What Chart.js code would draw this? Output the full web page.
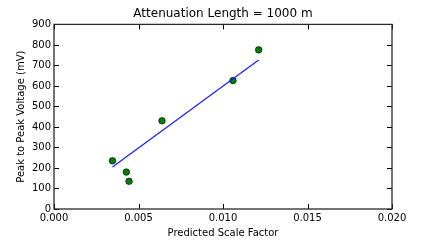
<!DOCTYPE html>
<html>
<head>
<meta charset="utf-8">
<script src="https://cdn.jsdelivr.net/npm/chart.js@4/dist/chart.umd.min.js"></script>
<style>
  html, body { margin: 0; padding: 0; background: #fff; }
  #wrap { width: 436px; height: 240px; }
</style>
</head>
<body>
<div id="wrap"><canvas id="chart"></canvas></div>
<script>
// measured points
const scaleFactor = [0.00346, 0.00428, 0.00444, 0.00639, 0.01059, 0.01211];
const voltage = [235, 180, 135, 430, 626, 776];
// fitted line ends
const fitX = [0.00346, 0.01211];
const fitY = [205, 726];
const xTicks = [0, 0.005, 0.010, 0.015, 0.020];
const yTicks = [0, 100, 200, 300, 400, 500, 600, 700, 800, 900];

Chart.defaults.font.family = "'DejaVu Sans', sans-serif";
Chart.defaults.color = '#000';

// matplotlib style frame with inward ticks on every side
const frame = {
    id: 'frame',
    afterDraw(chart) {
        const { ctx, chartArea: a, scales } = chart;
        const len = 5;
        ctx.save();
        ctx.strokeStyle = '#000';
        ctx.lineWidth = 1;
        ctx.beginPath();
        xTicks.forEach(v => {
            const px = Math.round(scales.x.getPixelForValue(v)) + 0.5;
            ctx.moveTo(px, a.bottom); ctx.lineTo(px, a.bottom - len);
            ctx.moveTo(px, a.top); ctx.lineTo(px, a.top + len);
        });
        yTicks.forEach(v => {
            const py = Math.round(scales.y.getPixelForValue(v)) + 0.5;
            ctx.moveTo(a.left, py); ctx.lineTo(a.left + len, py);
            ctx.moveTo(a.right, py); ctx.lineTo(a.right - len, py);
        });
        ctx.stroke();
        ctx.lineWidth = 1.3;
        ctx.strokeStyle = '#2a2a2a';
        ctx.strokeRect(a.left, a.top, a.right - a.left, a.bottom - a.top);
        ctx.restore();
    }
};

new Chart(document.getElementById('chart'), {
    type: 'scatter',
    data: {
        datasets: [{
            label: 'fit',
            type: 'line',
            data: fitX.map((x, i) => ({ x, y: fitY[i] })),
            borderColor: '#1a1aff',
            borderWidth: 1.2,
            pointRadius: 0,
            fill: false
        }, {
            label: 'data',
            data: scaleFactor.map((x, i) => ({ x, y: voltage[i] })),
            backgroundColor: '#007f00',
            borderColor: '#000',
            borderWidth: 0.6,
            pointRadius: 3.3
        }]
    },
    options: {
        responsive: true,
        maintainAspectRatio: false,
        animation: false,
        devicePixelRatio: 1,
        layout: { padding: { left: 15, right: 44, top: 0, bottom: 0 } },
        plugins: {
            legend: { display: false },
            tooltip: { enabled: false },
            title: {
                display: true,
                fullSize: false,
                text: 'Attenuation Length = 1000 m',
                font: { size: 12, weight: 'normal' },
                color: '#000',
                padding: { top: 7, bottom: 3 }
            }
        },
        scales: {
            x: {
                type: 'linear',
                min: 0,
                max: 0.02,
                afterBuildTicks: s => { s.ticks = xTicks.map(v => ({ value: v })); },
                afterFit: s => { s.height = 31; },
                ticks: {
                    font: { size: 10 },
                    padding: 3,
                    maxRotation: 0,
                    callback: v => v.toFixed(3)
                },
                grid: { display: false, drawTicks: false },
                border: { display: false },
                title: {
                    display: true,
                    text: 'Predicted Scale Factor',
                    font: { size: 10 },
                    padding: { top: 0, bottom: 1 }
                }
            },
            y: {
                type: 'linear',
                min: 0,
                max: 900,
                afterBuildTicks: s => { s.ticks = yTicks.map(v => ({ value: v })); },
                afterFit: s => { s.width = 39; },
                ticks: { font: { size: 10 }, padding: 3 },
                grid: { display: false, drawTicks: false },
                border: { display: false },
                title: {
                    display: true,
                    text: 'Peak to Peak Voltage (mV)',
                    font: { size: 10 },
                    padding: { top: 0, bottom: 0 }
                }
            }
        }
    },
    plugins: [frame]
});
</script>
</body>
</html>
